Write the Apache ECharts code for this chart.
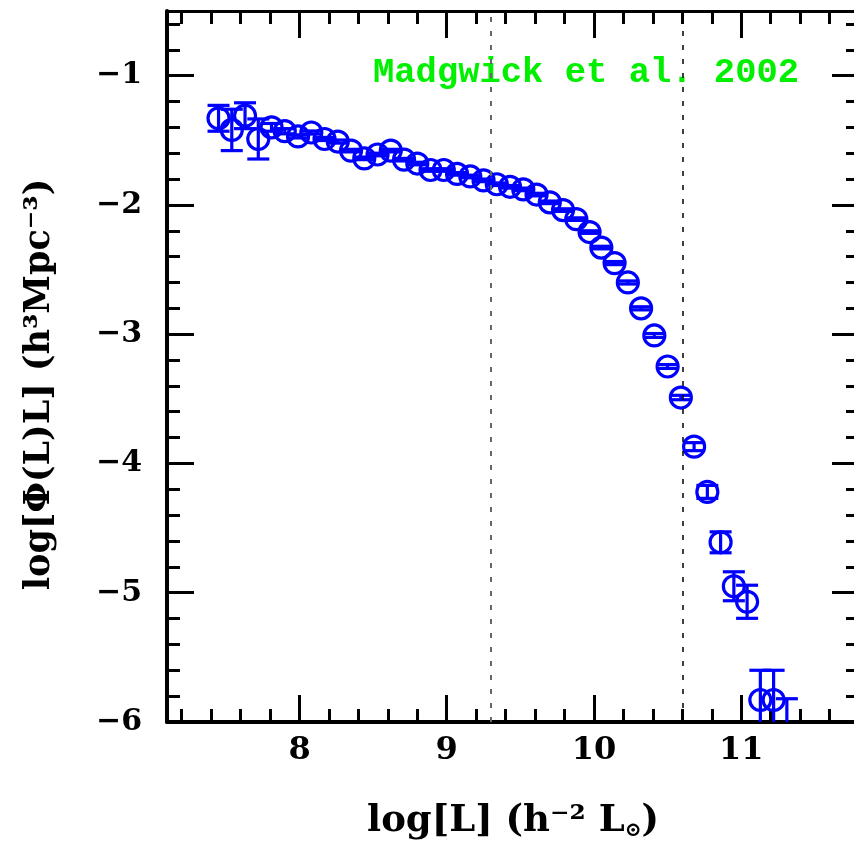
<!DOCTYPE html>
<html>
<head>
<meta charset="utf-8">
<script src="https://cdn.jsdelivr.net/npm/echarts@6/dist/echarts.min.js"></script>
<style>
  html, body { margin: 0; padding: 0; background: #fff; }
  #chart { width: 854px; height: 844px; }
</style>
</head>
<body>
<div id="chart"></div>
<script>
// luminosity function points
const logL = [
  7.45, 7.54, 7.63, 7.72, 7.81, 7.90, 7.99, 8.08, 8.17, 8.26,
  8.35, 8.44, 8.53, 8.62, 8.71, 8.80, 8.89, 8.98, 9.07, 9.16,
  9.25, 9.34, 9.43, 9.52, 9.61, 9.70, 9.79, 9.88, 9.97, 10.05,
  10.14, 10.23, 10.32, 10.41, 10.50, 10.59, 10.68, 10.77, 10.86, 10.95,
  11.04, 11.13, 11.22, 11.31
];
const logPhi = [
  -1.33, -1.42, -1.31, -1.49, -1.40, -1.43, -1.47, -1.44, -1.49, -1.51,
  -1.58, -1.64, -1.61, -1.58, -1.65, -1.68, -1.73, -1.73, -1.76, -1.78,
  -1.81, -1.84, -1.86, -1.88, -1.92, -1.98, -2.04, -2.11, -2.21, -2.33,
  -2.45, -2.60, -2.80, -3.01, -3.25, -3.49, -3.87, -4.22, -4.61, -4.95,
  -5.07, -5.83, -5.83, -6.15
];
const phiErr = [
  0.10, 0.16, 0.10, 0.155, 0.03, 0.02, 0.012, 0.012, 0.012, 0.012,
  0.01, 0.01, 0.01, 0.01, 0.01, 0.01, 0.01, 0.01, 0.01, 0.01,
  0.01, 0.01, 0.01, 0.01, 0.01, 0.01, 0.01, 0.01, 0.01, 0.01,
  0.012, 0.012, 0.012, 0.015, 0.015, 0.017, 0.031, 0.05, 0.081, 0.112,
  0.128, 0.23, 0.23, 0.33
];

// completeness limits
const limits = [9.3, 10.6];

// axis ticks
const xMajor = [8, 9, 10, 11];
const xMinor = [7.2, 7.4, 7.6, 7.8, 8.2, 8.4, 8.6, 8.8, 9.2, 9.4, 9.6, 9.8,
  10.2, 10.4, 10.6, 10.8, 11.2, 11.4, 11.6];
const yMajor = [-6, -5, -4, -3, -2, -1];
const yMinor = [-5.8, -5.6, -5.4, -5.2, -4.8, -4.6, -4.4, -4.2, -3.8, -3.6, -3.4, -3.2,
  -2.8, -2.6, -2.4, -2.2, -1.8, -1.6, -1.4, -1.2, -0.8, -0.6];

const BLUE = "#0000ff";
const axisFont = "DejaVu Serif";

const chart = echarts.init(document.getElementById("chart"));

const points = logL.map((x, i) => [x, logPhi[i], logPhi[i] - phiErr[i], logPhi[i] + phiErr[i]]);

function xAxisDef(pos, ticks, len, withLine, withLabel) {
  return {
    type: "value",
    position: pos,
    min: 7.1,
    max: 11.8,
    splitLine: { show: false },
    axisLine: { show: withLine, onZero: false, lineStyle: { color: "#000", width: pos === "bottom" ? 4 : 3 } },
    axisTick: { inside: true, length: len, customValues: ticks, lineStyle: { color: "#000", width: 3 } },
    axisLabel: withLabel
      ? { customValues: ticks, color: "#000", fontSize: 32, fontWeight: "bold", fontFamily: axisFont, margin: 13 }
      : { show: false },
  };
}

function yAxisDef(pos, ticks, len, withLine, withLabel) {
  return {
    type: "value",
    position: pos,
    min: -6,
    max: -0.5,
    splitLine: { show: false },
    axisLine: { show: withLine, onZero: false, lineStyle: { color: "#000", width: pos === "left" ? 4 : 3 } },
    axisTick: { inside: true, length: len, customValues: ticks, lineStyle: { color: "#000", width: 3 } },
    axisLabel: withLabel
      ? {
          customValues: ticks, color: "#000", fontSize: 30, fontWeight: "bold", fontFamily: axisFont, margin: 25,
          formatter: (v) => String(v).replace("-", "\u2212"),
        }
      : { show: false },
  };
}

const xAxes = [
  xAxisDef("bottom", xMajor, 27, true, true),
  xAxisDef("bottom", xMinor, 13, false, false),
  xAxisDef("top", xMajor, 27, true, false),
  xAxisDef("top", xMinor, 13, false, false),
];
Object.assign(xAxes[0], {
  name: "log[L] (h\u207B\u00B2 L{sun|\u2299})",
  nameLocation: "middle",
  nameGap: 79,
  nameTextStyle: {
    color: "#000", fontSize: 37, fontFamily: axisFont, fontWeight: "bold",
    rich: { sun: { fontSize: 20, fontFamily: axisFont, fontWeight: "bold", padding: [20, 0, 0, 0] } },
  },
});

const yAxes = [
  yAxisDef("left", yMajor, 27, true, true),
  yAxisDef("left", yMinor, 13, false, false),
  yAxisDef("right", yMajor, 27, true, false),
  yAxisDef("right", yMinor, 13, false, false),
];
Object.assign(yAxes[0], {
  name: "log[\u03A6(L)L] (h\u00B3Mpc\u207B\u00B3)",
  nameLocation: "middle",
  nameRotate: 90,
  nameGap: 110,
  nameTextStyle: { color: "#000", fontSize: 35, fontFamily: axisFont, fontWeight: "bold", padding: [0, 36, 0, 0] },
});

const option = {
  animation: false,
  backgroundColor: "#fff",
  grid: { left: 167, top: 11, width: 692, height: 711, containLabel: false, outerBoundsMode: "none" },
  xAxis: xAxes,
  yAxis: yAxes,
  graphic: [
    {
      type: "text",
      left: 373,
      top: 55,
      style: {
        text: "Madgwick et al. 2002",
        fill: "#00f000",
        font: 'bold 35.5px "Liberation Mono"',
      },
    },
  ],
  series: [
    {
      type: "custom",
      xAxisIndex: 0,
      yAxisIndex: 0,
      clip: true,
      data: points,
      renderItem: (params, api) => {
        const c = api.coord([api.value(0), api.value(1)]);
        const lo = api.coord([api.value(0), api.value(2)]);
        const hi = api.coord([api.value(0), api.value(3)]);
        const cap = 11;
        const style = { stroke: BLUE, lineWidth: 3.2, fill: null };
        return {
          type: "group",
          children: [
            { type: "circle", shape: { cx: c[0], cy: c[1], r: 10.5 }, style: style },
            { type: "line", shape: { x1: c[0], y1: lo[1], x2: c[0], y2: hi[1] }, style: style },
            { type: "line", shape: { x1: c[0] - cap, y1: lo[1], x2: c[0] + cap, y2: lo[1] }, style: style },
            { type: "line", shape: { x1: c[0] - cap, y1: hi[1], x2: c[0] + cap, y2: hi[1] }, style: style },
          ],
        };
      },
      markLine: {
        silent: true,
        symbol: ["none", "none"],
        label: { show: false },
        lineStyle: { type: [5, 9], width: 1.5, color: "#000" },
        data: [
          { xAxis: limits[0], lineStyle: { color: "#666", width: 2 } },
          { xAxis: limits[1] },
        ],
      },
    },
  ],
};

chart.setOption(option);
</script>
</body>
</html>
